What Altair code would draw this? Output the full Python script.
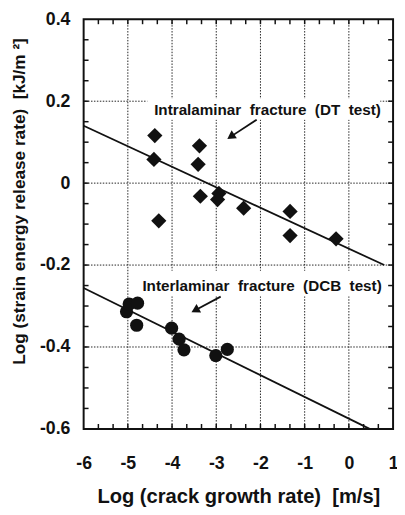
import math
import altair as alt
import pandas as pd

# ---------------- data ----------------
X_DOMAIN = [-6, 1]
Y_DOMAIN = [-0.6, 0.4]
W, H = 315, 417

# Intralaminar fracture (DT test) - diamonds
dt_x = [-4.39, -4.41, -4.30, -3.38, -3.41, -3.36, -2.94, -2.97, -2.38, -1.33, -1.33, -0.29]
dt_y = [0.116, 0.058, -0.092, 0.091, 0.046, -0.032, -0.025, -0.040, -0.061, -0.069, -0.128, -0.136]

# Interlaminar fracture (DCB test) - circles
dcb_x = [-5.03, -4.97, -4.78, -4.80, -4.01, -3.84, -3.73, -3.01, -2.75]
dcb_y = [-0.314, -0.295, -0.293, -0.347, -0.354, -0.381, -0.407, -0.421, -0.406]

# fitted lines (end points)
fit_dt_x = [-6.0, 0.80]
fit_dt_y = [0.140, -0.200]
fit_dcb_x = [-6.0, 0.47]
fit_dcb_y = [-0.256, -0.600]

# axis ticks
x_ticks = [-6, -5, -4, -3, -2, -1, 0, 1]
y_ticks = [0.4, 0.2, 0, -0.2, -0.4, -0.6]
x_minor = [round(-6 + k / 3, 4) for k in range(22)]
y_minor = [round(-0.6 + k * 0.05, 3) for k in range(21)]

# annotations
NB = "\u00a0"
note_text = ["Intralaminar" + NB + " fracture" + NB + " (DT" + NB + " test)",
             "Interlaminar" + NB + " fracture" + NB + " (DCB" + NB + " test)"]
note_x = [-4.405, -4.671]
note_y = [0.167, -0.264]
box_x1 = [-4.56, -4.78]
box_x2 = [0.71, 0.76]
box_y1 = [0.206, -0.214]
box_y2 = [0.155, -0.276]
arrow_x0 = [-2.085, -2.90]
arrow_y0 = [0.155, -0.277]
arrow_x1 = [-2.75, -3.56]
arrow_y1 = [0.108, -0.315]

FONT = "Liberation Sans, Arial, Helvetica, sans-serif"
INK = "#111"

# ---------------- tables ----------------
dt = pd.DataFrame({"x": dt_x, "y": dt_y})
dcb = pd.DataFrame({"x": dcb_x, "y": dcb_y})
fits = pd.DataFrame({
    "x": fit_dt_x + fit_dcb_x,
    "y": fit_dt_y + fit_dcb_y,
    "s": ["DT", "DT", "DCB", "DCB"],
})
notes = pd.DataFrame({"t": note_text, "x": note_x, "y": note_y,
                      "bx1": box_x1, "bx2": box_x2, "by1": box_y1, "by2": box_y2})
xgrid = pd.DataFrame({"v": x_ticks[1:-1]})
ygrid = pd.DataFrame({"v": y_ticks[1:-1]})
xminor = pd.DataFrame({"v": x_minor[1:-1]})
yminor = pd.DataFrame({"v": y_minor[1:-1]})

# arrow heads: place triangle so its tip lands on the arrow end
sx = W / (X_DOMAIN[1] - X_DOMAIN[0])
sy = H / (Y_DOMAIN[1] - Y_DOMAIN[0])
HEAD = 95
h = math.sqrt(3) / 2 * math.sqrt(HEAD) / 2
hx, hy, ang = [], [], []
for x0, y0, x1, y1 in zip(arrow_x0, arrow_y0, arrow_x1, arrow_y1):
    dx = (x1 - x0) * sx
    dy = -(y1 - y0) * sy
    n = math.hypot(dx, dy)
    ux, uy = dx / n, dy / n
    hx.append(x1 - ux * h / sx)
    hy.append(y1 + uy * h / sy)
    ang.append((math.degrees(math.atan2(ux, -uy)) + 360) % 360)
arrows = pd.DataFrame({"x0": arrow_x0, "y0": arrow_y0, "x1": arrow_x1, "y1": arrow_y1,
                       "hx": hx, "hy": hy, "ang": ang})

xs = alt.Scale(domain=X_DOMAIN, nice=False, zero=False)
ys = alt.Scale(domain=Y_DOMAIN, nice=False, zero=False)

label_expr = "'' + datum.value"

main_x_axis = alt.Axis(
    values=x_ticks, grid=False, ticks=False, domain=False,
    labelExpr=label_expr, labelFont=FONT, labelFontSize=18, labelFontWeight="bold",
    labelColor=INK, labelPadding=26, labelFlush=False,
    title="Log (crack growth rate)" + NB + " [m/s]", titleFont=FONT, titleFontSize=20.5,
    titleFontWeight="bold", titleColor=INK, titleBaseline="alphabetic", titleY=75,
)
main_y_axis = alt.Axis(
    values=y_ticks, grid=False, ticks=False, domain=False,
    labelExpr=label_expr, labelFont=FONT, labelFontSize=18, labelFontWeight="bold",
    labelColor=INK, labelPadding=14, labelFlush=False,
    title="Log (strain energy release rate)" + NB + " [kJ/m \u00b2]", titleFont=FONT,
    titleFontSize=17.5, titleFontWeight="bold", titleColor=INK,
    titleAngle=270, titleX=-65, titleY=185, titleAlign="center", titleBaseline="middle",
)

GRID = dict(color="#222", strokeDash=[1.5, 1.5], strokeWidth=1)

grid_v = alt.Chart(xgrid).mark_rule(**GRID).encode(x=alt.X("v:Q", scale=xs, axis=None))
grid_h = alt.Chart(ygrid).mark_rule(**GRID).encode(y=alt.Y("v:Q", scale=ys, axis=None))

TICK = dict(color=INK, strokeWidth=1.5)
tick_top = alt.Chart(xminor).mark_rule(**TICK).encode(
    x=alt.X("v:Q", scale=xs, axis=None), y=alt.value(0), y2=alt.value(5))
tick_bot = alt.Chart(xminor).mark_rule(**TICK).encode(
    x=alt.X("v:Q", scale=xs, axis=None), y=alt.value(H - 5), y2=alt.value(H))
tick_left = alt.Chart(yminor).mark_rule(**TICK).encode(
    y=alt.Y("v:Q", scale=ys, axis=None), x=alt.value(0), x2=alt.value(5))
tick_right = alt.Chart(yminor).mark_rule(**TICK).encode(
    y=alt.Y("v:Q", scale=ys, axis=None), x=alt.value(W - 5), x2=alt.value(W))

boxes = alt.Chart(notes).mark_rect(fill="white").encode(
    x=alt.X("bx1:Q", scale=xs, axis=None), x2="bx2:Q",
    y=alt.Y("by1:Q", scale=ys, axis=None), y2="by2:Q",
)

fit_lines = alt.Chart(fits).mark_line(color=INK, strokeWidth=1.8).encode(
    x=alt.X("x:Q", scale=xs, axis=None),
    y=alt.Y("y:Q", scale=ys, axis=None),
    detail="s:N",
)

dt_pts = alt.Chart(dt).mark_point(
    shape="diamond", filled=True, size=240, color=INK, opacity=1
).encode(
    x=alt.X("x:Q", scale=xs, axis=None),
    y=alt.Y("y:Q", scale=ys, axis=None),
)

axes_layer = alt.Chart(dt).mark_point(opacity=0).encode(
    x=alt.X("x:Q", scale=xs, axis=main_x_axis),
    y=alt.Y("y:Q", scale=ys, axis=main_y_axis),
)

dcb_pts = alt.Chart(dcb).mark_point(
    shape="circle", filled=True, size=180, color=INK, opacity=1
).encode(
    x=alt.X("x:Q", scale=xs, axis=None),
    y=alt.Y("y:Q", scale=ys, axis=None),
)

texts = alt.Chart(notes).mark_text(
    align="left", baseline="alphabetic", font=FONT, fontSize=15.5, fontWeight="bold", color=INK
).encode(
    x=alt.X("x:Q", scale=xs, axis=None),
    y=alt.Y("y:Q", scale=ys, axis=None),
    text="t:N",
)

arrow_lines = alt.Chart(arrows).mark_rule(color=INK, strokeWidth=1.8).encode(
    x=alt.X("x0:Q", scale=xs, axis=None), x2="hx:Q",
    y=alt.Y("y0:Q", scale=ys, axis=None), y2="hy:Q",
)
arrow_heads = alt.Chart(arrows).mark_point(
    shape="triangle-up", filled=True, size=HEAD, color=INK, opacity=1
).encode(
    x=alt.X("hx:Q", scale=xs, axis=None),
    y=alt.Y("hy:Q", scale=ys, axis=None),
    angle=alt.Angle("ang:Q", scale=None),
)

chart = alt.layer(
    axes_layer,
    grid_v, grid_h, tick_top, tick_bot, tick_left, tick_right,
    boxes, fit_lines, dt_pts, dcb_pts, texts, arrow_lines, arrow_heads,
).resolve_axis(
    x="independent", y="independent"
).properties(
    width=W, height=H,
    autosize=alt.AutoSizeParams(type="none"),
    padding={"left": 77, "top": 7, "right": 4, "bottom": 75},
    background="white",
).configure_view(
    stroke=INK, strokeWidth=2
)

chart.save("out.html", embed_options={"renderer": "svg", "actions": False})
